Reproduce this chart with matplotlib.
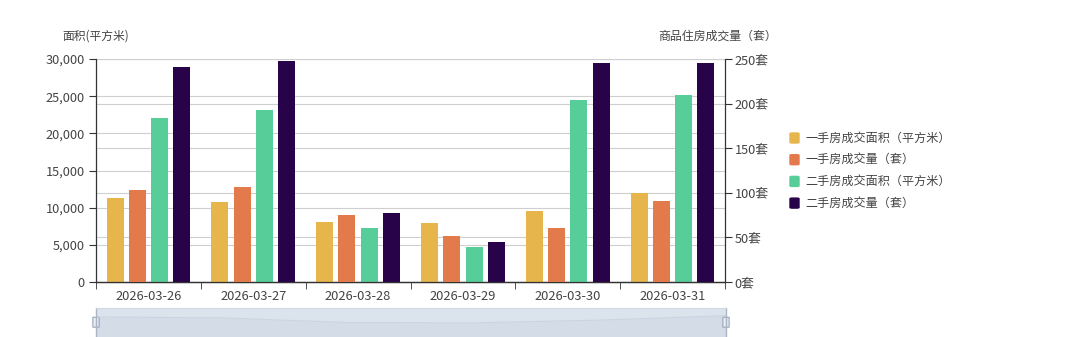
import numpy as np
import matplotlib.pyplot as plt
from matplotlib.patches import FancyBboxPatch

plt.rcParams['font.family'] = ['Noto Sans CJK SC', 'DejaVu Sans']

dates = ['2026-03-26', '2026-03-27', '2026-03-28', '2026-03-29', '2026-03-30', '2026-03-31']
new_area = [11250, 10750, 8120, 7940, 9510, 12000]      # 一手房成交面积（平方米）
new_count = [103, 106, 75, 52, 61, 91]                  # 一手房成交量（套）
second_area = [22000, 23200, 7270, 4770, 24450, 25100]  # 二手房成交面积（平方米）
second_count = [241, 248, 77, 45, 245, 245]             # 二手房成交量（套）

names = ['一手房成交面积（平方米）', '一手房成交量（套）', '二手房成交面积（平方米）', '二手房成交量（套）']
colors = ['#E6B54B', '#E27A4C', '#57CE9A', '#28034A']

W, H = 1080, 337
fig = plt.figure(figsize=(W / 100, H / 100), dpi=100)
ax = fig.add_axes([96 / W, 1 - 282 / H, (725 - 96) / W, (282 - 59) / H])
ax2 = ax.twinx()

x = np.arange(len(dates))
bw = 0.162
step = 0.212
offsets = (np.arange(4) - 1.5) * step

ax.bar(x + offsets[0], new_area, bw, color=colors[0], zorder=3)
ax2.bar(x + offsets[1], new_count, bw, color=colors[1], zorder=3)
ax.bar(x + offsets[2], second_area, bw, color=colors[2], zorder=3)
ax2.bar(x + offsets[3], second_count, bw, color=colors[3], zorder=3)

ax.set_ylim(0, 30000)
ax2.set_ylim(0, 250)
ax.set_xlim(-0.5, len(dates) - 0.5)
ax.set_yticks(np.arange(0, 30001, 5000))
ax.set_yticklabels([f'{v:,}' for v in range(0, 30001, 5000)])
ax2.set_yticks(np.arange(0, 251, 50))
ax2.set_yticklabels([f'{v}套' for v in range(0, 251, 50)])

ax.set_xticks(x)
ax.set_xticklabels(dates)
ax.set_xticks(np.arange(len(dates) + 1) - 0.5, minor=True)
ax.tick_params(axis='x', which='major', length=0, pad=6, labelsize=9.3, labelcolor='#444')
ax.tick_params(axis='x', which='minor', length=5, color='#333')

# both sets of grid lines drawn behind every bar
for v in range(5000, 30001, 5000):
    ax.axhline(v, color='#cfcfcf', lw=0.8, zorder=0)
for v in range(50, 251, 50):
    ax.axhline(v * 120, color='#cfcfcf', lw=0.8, zorder=0)

for a in (ax, ax2):
    a.spines['top'].set_visible(False)
    for s in ('left', 'right', 'bottom'):
        a.spines[s].set_color('#333')
        a.spines[s].set_linewidth(0.9)
ax.spines['right'].set_visible(False)
ax2.spines['left'].set_visible(False)
ax.tick_params(axis='y', length=5, color='#333', labelsize=9.2, labelcolor='#444', pad=3)
ax2.tick_params(axis='y', length=5, color='#333', labelsize=9.2, labelcolor='#444', pad=2)

fig.text(62 / W, 1 - 36 / H, '面积(平方米)', fontsize=8.5, color='#444', va='center')
fig.text(777 / W, 1 - 36 / H, '商品住房成交量（套）', fontsize=8.6, color='#444', va='center', ha='right')

# legend
for i, (n, c) in enumerate(zip(names, colors)):
    yy = 1 - (138 + i * 21.7) / H
    fig.patches.append(FancyBboxPatch((790 / W, yy - 5 / H), 9 / W, 10 / H,
                                      boxstyle='round,pad=0,rounding_size=0.002',
                                      transform=fig.transFigure, color=c))
    fig.text(805 / W, yy, n, fontsize=8.7, color='#444', va='center')

# data zoom slider (cut off at the bottom edge)
sl = fig.add_axes([96 / W, 0, (726 - 96) / W, 29 / H])
sl.set_facecolor('#dbe3ed')
sl.fill_between(x, 0, new_area, color='#d3dce7', lw=0)
sl.plot(x, new_area, color='#cbd5e1', lw=0.8)
sl.set_xlim(0, len(dates) - 1)
sl.set_ylim(0, 16300)
sl.set_xticks([])
sl.set_yticks([])
for s in sl.spines.values():
    s.set_visible(False)
sl.spines['top'].set_visible(True)
sl.spines['top'].set_color('#d0d9e4')
for hx in (0, len(dates) - 1):
    sl.plot([hx, hx], [0, 16300], color='#aab6c6', lw=1.0, clip_on=False)
    sl.add_patch(FancyBboxPatch((hx - 0.025, 5500), 0.05, 5600, boxstyle='round,pad=0',
                                facecolor='#e6ebf1', edgecolor='#9aa8b9', lw=0.8, clip_on=False))

fig.savefig('out.png', dpi=100, facecolor='white')
